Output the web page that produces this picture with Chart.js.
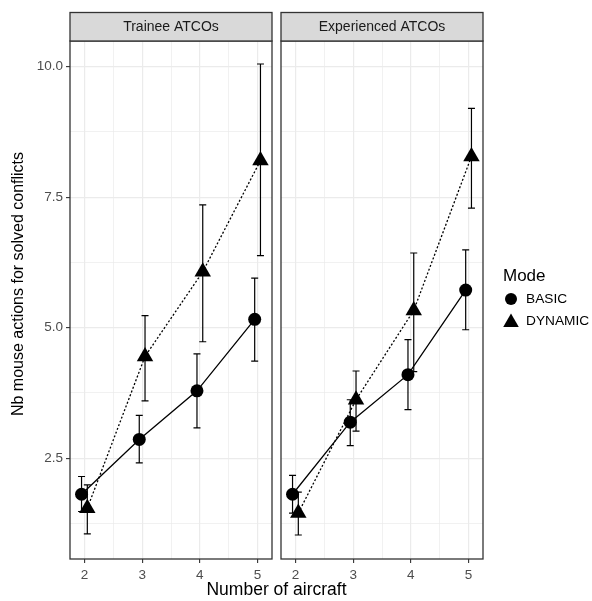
<!DOCTYPE html>
<html>
<head>
<meta charset="utf-8">
<script src="https://cdn.jsdelivr.net/npm/chart.js@4/dist/chart.umd.min.js"></script>
<style>
  body { margin: 0; background: #fff; }
  #wrap { position: relative; width: 592px; height: 601px; }
  #wrap canvas { position: absolute; left: 0; top: 0; }
</style>
</head>
<body>
<div id="wrap">
  <canvas id="trainee" width="592" height="601"></canvas>
  <canvas id="experienced" width="592" height="601"></canvas>
</div>
<script>
// data
var aircraft = [2, 3, 4, 5];
var panels = ['Trainee ATCOs', 'Experienced ATCOs'];
var modes = ['BASIC', 'DYNAMIC'];
var yTicks = [2.5, 5.0, 7.5, 10.0];
var yMinor = [1.25, 3.75, 6.25, 8.75];
var xMinor = [2.5, 3.5, 4.5];

var traineeBasic     = [1.81, 2.86, 3.79, 5.16];
var traineeBasicLo   = [1.48, 2.41, 3.08, 4.36];
var traineeBasicHi   = [2.15, 3.32, 4.50, 5.95];
var traineeDynamic   = [1.54, 4.45, 6.07, 8.20];
var traineeDynamicLo = [1.05, 3.60, 4.73, 6.38];
var traineeDynamicHi = [1.99, 5.23, 7.35, 10.05];

var expBasic     = [1.81, 3.19, 4.10, 5.72];
var expBasicLo   = [1.45, 2.74, 3.43, 4.96];
var expBasicHi   = [2.17, 3.62, 4.77, 6.49];
var expDynamic   = [1.45, 3.62, 5.33, 8.28];
var expDynamicLo = [1.03, 3.02, 4.16, 7.29];
var expDynamicHi = [1.85, 4.17, 6.43, 9.20];

var dodge = 0.05;
var FONT = '"Liberation Sans", Arial, Helvetica, sans-serif';

function pts(vals, lo, hi, shift){
	return vals.map(function(v, i){
		return { x: aircraft[i] + shift, y: v, lo: lo[i], hi: hi[i] };
	});
}

function isMajor(list, v){
	return list.some(function(t){ return Math.abs(t - v) < 1e-6; });
}

// strip, panel border and error bars
var panelPlugin = {
	id: 'panel',
	beforeDatasetsDraw: function(chart){
		var ctx = chart.ctx, xs = chart.scales.x, ys = chart.scales.y;
		ctx.save();
		ctx.strokeStyle = '#000';
		ctx.lineWidth = 1.2;
		chart.data.datasets.forEach(function(ds){
			ds.data.forEach(function(p){
				var x = xs.getPixelForValue(p.x);
				var y1 = ys.getPixelForValue(p.lo), y2 = ys.getPixelForValue(p.hi);
				ctx.beginPath();
				ctx.moveTo(x, y1); ctx.lineTo(x, y2);
				ctx.moveTo(x - 3.5, y1); ctx.lineTo(x + 3.5, y1);
				ctx.moveTo(x - 3.5, y2); ctx.lineTo(x + 3.5, y2);
				ctx.stroke();
			});
		});
		ctx.restore();
	},
	afterDraw: function(chart, args, opts){
		var ctx = chart.ctx, a = chart.chartArea;
		ctx.save();
		ctx.strokeStyle = '#333333';
		ctx.lineWidth = 1.3;
		ctx.strokeRect(a.left, a.top, a.right - a.left, a.bottom - a.top);
		ctx.fillStyle = '#d9d9d9';
		ctx.fillRect(a.left, 12.5, a.right - a.left, a.top - 12.5);
		ctx.strokeRect(a.left, 12.5, a.right - a.left, a.top - 12.5);
		ctx.fillStyle = '#1a1a1a';
		ctx.font = '14px ' + FONT;
		ctx.textAlign = 'center';
		ctx.textBaseline = 'middle';
		ctx.fillText(opts.title, (a.left + a.right) / 2, (12.5 + a.top) / 2 + 0.5);
		ctx.restore();
	}
};

// axis titles and legend, drawn once on the first canvas
var outerPlugin = {
	id: 'outer',
	afterDraw: function(chart){
		var ctx = chart.ctx;
		ctx.save();
		ctx.fillStyle = '#000';
		ctx.textAlign = 'center';
		ctx.textBaseline = 'middle';
		ctx.font = '17.5px ' + FONT;
		ctx.fillText('Number of aircraft', 276.5, 590);
		ctx.font = '16px ' + FONT;
		ctx.translate(19, 284);
		ctx.rotate(-Math.PI / 2);
		ctx.fillText('Nb mouse actions for solved conflicts', 0, 0);
		ctx.restore();

		ctx.save();
		ctx.fillStyle = '#000';
		ctx.textBaseline = 'middle';
		ctx.textAlign = 'left';
		ctx.font = '17px ' + FONT;
		ctx.fillText('Mode', 503, 276);
		ctx.font = '13.7px ' + FONT;
		ctx.fillText(modes[0], 526, 299.5);
		ctx.fillText(modes[1], 526, 321.5);
		ctx.beginPath();
		ctx.arc(511, 299, 6, 0, Math.PI * 2);
		ctx.fill();
		var r = 9, cx = 511, cy = 322.5;
		ctx.beginPath();
		ctx.moveTo(cx, cy - r);
		ctx.lineTo(cx + r * 0.866, cy + r * 0.5);
		ctx.lineTo(cx - r * 0.866, cy + r * 0.5);
		ctx.closePath();
		ctx.fill();
		ctx.restore();
	}
};

function makePanel(id, title, basic, basicLo, basicHi, dyn, dynLo, dynHi, first){
	var ctx = document.getElementById(id).getContext('2d');
	return new Chart(ctx, {
		type: 'line',
		data: {
			datasets: [{
				label: modes[0],
				data: pts(basic, basicLo, basicHi, -dodge),
				borderColor: '#000',
				backgroundColor: '#000',
				borderWidth: 1.3,
				pointStyle: 'circle',
				pointRadius: 6.5,
				pointBorderWidth: 0,
				tension: 0
			}, {
				label: modes[1],
				data: pts(dyn, dynLo, dynHi, dodge),
				borderColor: '#000',
				backgroundColor: '#000',
				borderWidth: 1.3,
				borderDash: [2, 2],
				pointStyle: 'triangle',
				pointRadius: 9.5,
				pointBorderWidth: 0,
				tension: 0
			}]
		},
		options: {
			responsive: false,
			animation: false,
			events: [],
			layout: {
				padding: first ? { left: 0, right: 320, top: 41, bottom: 0 }
				               : { left: 0, right: 109, top: 41, bottom: 0 }
			},
			plugins: {
				legend: { display: false },
				tooltip: { enabled: false },
				panel: { title: title }
			},
			scales: {
				x: {
					type: 'linear',
					min: 1.75, max: 5.25,
					afterFit: function(s){ s.height = 42; },
					afterBuildTicks: function(s){
						s.ticks = aircraft.concat(xMinor).sort().map(function(v){ return { value: v }; });
					},
					border: { display: false },
					grid: {
						color: '#ebebeb',
						lineWidth: function(c){ return isMajor(aircraft, c.tick.value) ? 1.2 : 0.7; },
						tickColor: function(c){ return isMajor(aircraft, c.tick.value) ? '#333333' : 'rgba(0,0,0,0)'; },
						tickWidth: 1.1,
						tickLength: 4
					},
					ticks: {
						color: '#4d4d4d',
						font: { family: FONT, size: 13.5 },
						padding: 4,
						maxRotation: 0,
						autoSkip: false,
						callback: function(v){ return isMajor(aircraft, v) ? String(v) : ''; }
					}
				},
				y: {
					type: 'linear',
					min: 0.57, max: 10.49,
					afterFit: function(s){ s.width = first ? 70 : 281; },
					afterBuildTicks: function(s){
						s.ticks = yMinor.concat(yTicks).sort(function(a, b){ return a - b; })
							.map(function(v){ return { value: v }; });
					},
					border: { display: false },
					grid: {
						color: '#ebebeb',
						lineWidth: function(c){ return isMajor(yTicks, c.tick.value) ? 1.2 : 0.7; },
						tickColor: function(c){ return isMajor(yTicks, c.tick.value) ? '#333333' : 'rgba(0,0,0,0)'; },
						tickWidth: 1.1,
						tickLength: 4,
						drawTicks: first
					},
					ticks: {
						display: first,
						color: '#4d4d4d',
						font: { family: FONT, size: 13.5 },
						padding: 3,
						autoSkip: false,
						callback: function(v){ return isMajor(yTicks, v) ? v.toFixed(1) : ''; }
					}
				}
			}
		},
		plugins: first ? [panelPlugin, outerPlugin] : [panelPlugin]
	});
}

makePanel('trainee', panels[0], traineeBasic, traineeBasicLo, traineeBasicHi,
	traineeDynamic, traineeDynamicLo, traineeDynamicHi, true);
makePanel('experienced', panels[1], expBasic, expBasicLo, expBasicHi,
	expDynamic, expDynamicLo, expDynamicHi, false);
</script>
</body>
</html>
